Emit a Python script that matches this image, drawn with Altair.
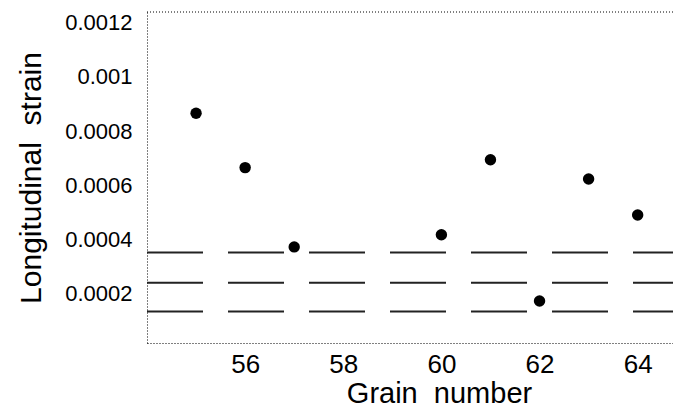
import altair as alt
import pandas as pd

# Data
grains = [55, 56, 57, 60, 61, 62, 63, 64]
strain = [0.000866, 0.000665, 0.000372, 0.000417, 0.000694, 0.000172, 0.000623, 0.000490]
levels = [0.000351, 0.000240, 0.000133]
x_ticks = [56, 58, 60, 62, 64]
y_ticks = [0.0002, 0.0004, 0.0006, 0.0008, 0.001, 0.0012]
x_domain = [54, 64.72]
y_domain = [0.000017, 0.00124]

pts = pd.DataFrame({"grain": grains, "strain": strain})
lv = pd.DataFrame({"level": levels, "x0": [x_domain[0]] * len(levels), "x1": [x_domain[1]] * len(levels)})
top_df = pd.DataFrame({"t": [y_domain[1]]})

xs = alt.Scale(domain=x_domain, nice=False, zero=False)
ys = alt.Scale(domain=y_domain, nice=False, zero=False)

FONT = "Liberation Sans, Arial, sans-serif"

x_axis = alt.Axis(
    values=x_ticks, title="Grain\u00a0\u00a0number", grid=False, ticks=False,
    labelFontSize=26, labelPadding=8, labelFont=FONT, labelColor="black",
    titleFontSize=29, titleFont=FONT, titleFontWeight="normal", titleColor="black",
    titlePadding=2, titleX=292, domainDash=[1, 2], domainColor="black", domainWidth=1,
)
y_axis = alt.Axis(
    values=y_ticks, format="~g", title="Longitudinal\u00a0\u00a0strain", grid=False, ticks=False,
    labelFontSize=22, labelPadding=15, labelFont=FONT, labelColor="black",
    titleFontSize=30, titleFont=FONT, titleFontWeight="normal", titleColor="black",
    titlePadding=18, domainDash=[1, 2], domainColor="black", domainWidth=1,
)

points = alt.Chart(pts).mark_circle(size=130, color="black", opacity=1).encode(
    x=alt.X("grain:Q", scale=xs, axis=x_axis),
    y=alt.Y("strain:Q", scale=ys, axis=y_axis),
)

lines = alt.Chart(lv).mark_rule(strokeDash=[56, 25], strokeWidth=2, color="#222").encode(
    x=alt.X("x0:Q", scale=xs),
    x2="x1:Q",
    y=alt.Y("level:Q", scale=ys),
)

top = alt.Chart(top_df).mark_rule(strokeDash=[1, 2], strokeWidth=1, color="black").encode(
    y=alt.Y("t:Q", scale=ys)
)

chart = alt.layer(lines, top, points).properties(
    width=526, height=331,
    autosize=alt.AutoSizeParams(type="none"),
    padding={"left": 147, "top": 12, "right": 0, "bottom": 65},
    background="white",
).configure_view(stroke=None)

chart.save("out.html", embed_options={"renderer": "svg", "actions": False})
